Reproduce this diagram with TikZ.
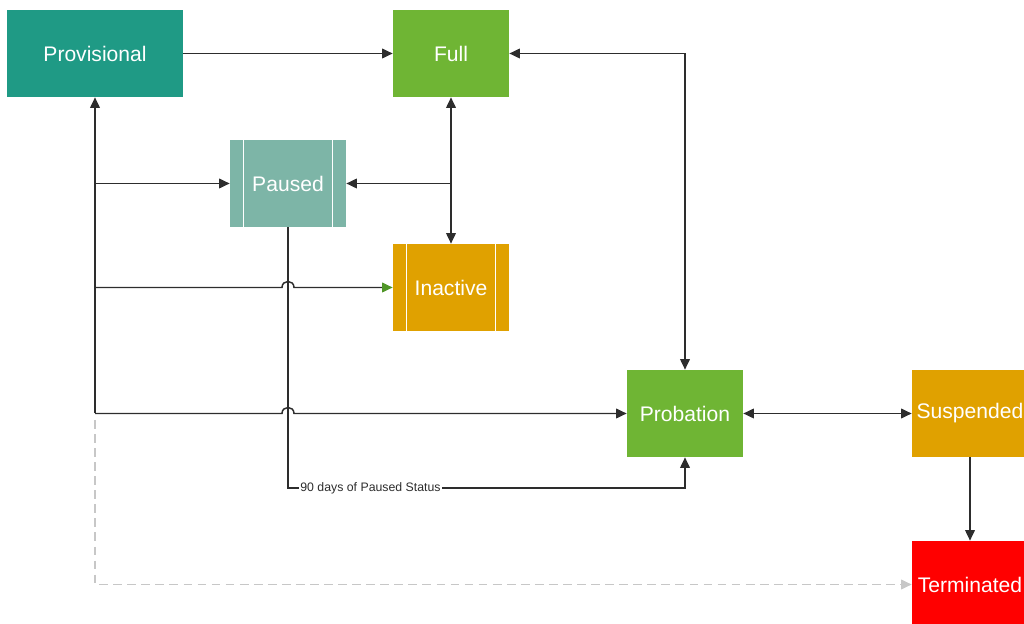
\documentclass[tikz,border=0pt]{standalone}
\usepackage{fontspec}
\setmainfont{Liberation Sans}
\usetikzlibrary{arrows.meta,calc}

\definecolor{provteal}{RGB}{31,154,133}
\definecolor{fullgreen}{RGB}{111,181,52}
\definecolor{pausedteal}{RGB}{125,181,167}
\definecolor{amber}{RGB}{224,161,0}
\definecolor{termred}{RGB}{255,0,0}
\definecolor{linegrey}{RGB}{45,45,45}
\definecolor{tipgreen}{RGB}{80,150,40}

\begin{document}
\begin{tikzpicture}[x=0.02cm, y=-0.02cm,
  >={Triangle[length=6pt,width=5.5pt]},
  status/.style={text=white, font=\fontsize{12}{14}\selectfont,
    minimum width=2.32cm, minimum height=1.74cm, inner sep=0pt},
  held/.style={status, path picture={
    \draw[white, line width=0.8pt]
      ($(path picture bounding box.north west)+(0.27cm,0)$) -- ($(path picture bounding box.south west)+(0.27cm,0)$)
      ($(path picture bounding box.north east)+(-0.27cm,0)$) -- ($(path picture bounding box.south east)+(-0.27cm,0)$);}},
  link/.style={draw=linegrey, line width=0.85pt},
  faint/.style={draw=black!22, line width=0.85pt, dash pattern=on 5pt off 3pt},
  daynote/.style={fill=white, inner sep=0.6pt, text=linegrey, font=\fontsize{7}{8.5}\selectfont}]

  \useasboundingbox (0,0) rectangle (1024,624);
  \clip (0,0) rectangle (1024,624);

  % states
  \node[status, fill=provteal, minimum width=3.52cm] (prov) at (95,53.5) {Provisional};
  \node[status, fill=fullgreen] (full) at (451,53.5) {Full};
  \node[held, fill=pausedteal] (paused) at (288,183.5) {Paused};
  \node[held, fill=amber] (inact) at (451,287.5) {Inactive};
  \node[status, fill=fullgreen] (prob) at (685,413.5) {Probation};
  \node[status, fill=amber] (susp) at (970,413.5) {Suspended};
  \node[status, fill=termred] (term) at (970,584.5) {Terminated};

  % bend points
  \coordinate (trunk) at (95,413.5);
  \coordinate (branchP) at (95,183.5);
  \coordinate (branchI) at (95,287.5);
  \coordinate (fullmid) at (451,183.5);
  \coordinate (hopI) at (288,287.5);
  \coordinate (hopB) at (288,413.5);
  \coordinate (pbend) at (288,488);
  \coordinate (dashtop) at (95,420);

  % top row
  \draw[link, ->] (prov) -- (full);
  \draw[link, <->] (full.east) -| (prob.north);
  \draw[link, <->] (full.south) -- (inact.north);
  \draw[link, ->] (fullmid) -- (paused.east);

  % left trunk
  \draw[link, ->] (trunk) -- (prov.south);
  \draw[link, ->] (branchP) -- (paused.west);
  \draw[link, -{Triangle[length=6pt,width=5.5pt,color=tipgreen]}] (branchI) -- ($(hopI)+(-6,0)$)
    .. controls ($(hopI)+(-6,-8)$) and ($(hopI)+(6,-8)$) .. ($(hopI)+(6,0)$) -- (inact.west);
  \draw[link, ->] (trunk) -- ($(hopB)+(-6,0)$)
    .. controls ($(hopB)+(-6,-8)$) and ($(hopB)+(6,-8)$) .. ($(hopB)+(6,0)$) -- (prob.west);

  % paused timeout
  \draw[link, ->] (paused.south) -- (pbend) -| (prob.south);
  \node[daynote, anchor=west] (days) at ($(pbend)+(11,0)$) {90 days of Paused Status};

  % right side
  \draw[link, <->] (prob) -- (susp);
  \draw[link, ->] (susp) -- (term);
  \draw[faint, -{Triangle[length=6pt,width=5.5pt,color=black!22]}] (dashtop) |- (term.west);
\end{tikzpicture}
\end{document}
